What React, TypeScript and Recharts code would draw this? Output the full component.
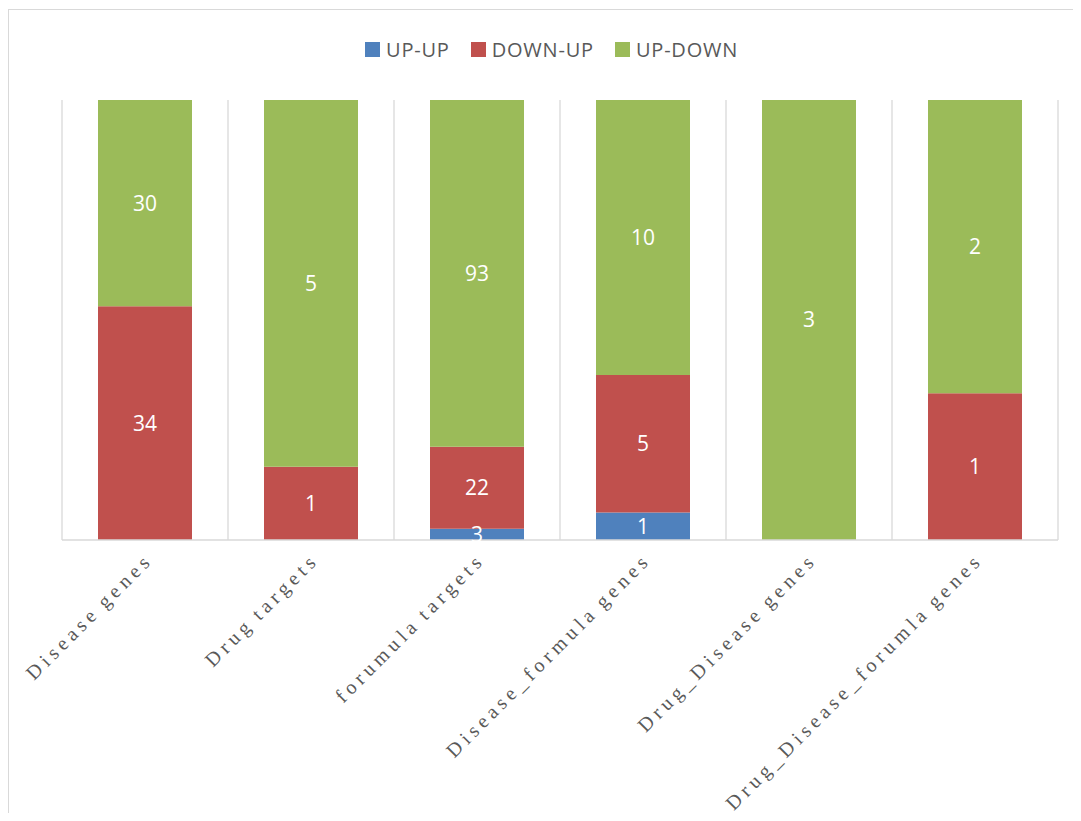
import React from 'react';
import { BarChart, Bar, XAxis, YAxis, CartesianGrid, LabelList } from 'recharts';

const categories = [
  'Disease genes',
  'Drug targets',
  'forumula targets',
  'Disease_formula genes',
  'Drug_Disease genes',
  'Drug_Disease_forumla genes',
];
const upUp = [0, 0, 3, 1, 0, 0];
const downUp = [34, 1, 22, 5, 0, 1];
const upDown = [30, 5, 93, 10, 3, 2];

const seriesKeys = ['upUp', 'downUp', 'upDown'];
const seriesNames = ['UP-UP', 'DOWN-UP', 'UP-DOWN'];
const colors = ['#4F81BD', '#C0504D', '#9BBB59'];

const data = categories.map((c, i) => ({
  name: c,
  upUp: upUp[i],
  downUp: downUp[i],
  upDown: upDown[i],
}));

const labelFont = '"Open Sans", "Noto Sans", sans-serif';

const Tick = (props: any) => {
  const { x, y, payload } = props;
  const ax = x + 9;
  const ay = y + 21;
  return (
    <text
      x={ax}
      y={ay}
      transform={`rotate(-45, ${ax}, ${ay})`}
      textAnchor="end"
      fontFamily='"Liberation Serif", "Times New Roman", serif'
      fontSize={20}
      letterSpacing={4.6}
      wordSpacing={-3}
      fill="#595959"
    >
      {payload.value}
    </text>
  );
};

const fmt = (v: any) => (v === 0 ? '' : v);

export default function App() {
  return (
    <div style={{ position: 'relative', width: 1073, height: 813, marginBottom: -8, overflow: 'hidden', background: '#fff' }}>
      <div style={{ position: 'absolute', left: 0, top: 0 }}>
        <BarChart
          width={1073}
          height={813}
          data={data}
          stackOffset="expand"
          barSize={94}
          margin={{ top: 92, right: 23, bottom: 10, left: 54 }}
        >
          <CartesianGrid
            horizontal={false}
            stroke="#d9d9d9"
            strokeWidth={1.3}
            verticalCoordinatesGenerator={({ offset }: any) =>
              [0, 1, 2, 3, 4, 5, 6].map((i) => offset.left + (i * offset.width) / 6)
            }
          />
          <XAxis
            dataKey="name"
            interval={0}
            tickLine={false}
            tickSize={0}
            tickMargin={0}
            height={271}
            axisLine={{ stroke: '#d9d9d9', strokeWidth: 1.5 }}
            tick={<Tick />}
          />
          <YAxis hide domain={[0, 1]} />
          {seriesKeys.map((k, i) => (
            <Bar key={k} dataKey={k} name={seriesNames[i]} stackId="a" fill={colors[i]} isAnimationActive={false}>
              <LabelList dataKey={k} position="center" fill="#fff" fontSize={21} fontFamily={labelFont} formatter={fmt} />
            </Bar>
          ))}
        </BarChart>
      </div>
      <div
        style={{
          position: 'absolute',
          left: 357,
          top: 28,
          display: 'flex',
          alignItems: 'center',
          fontFamily: labelFont,
          whiteSpace: 'nowrap',
        }}
      >
        {seriesNames.map((n, i) => (
          <div key={n} style={{ display: 'flex', alignItems: 'center', marginRight: i < 2 ? 21 : 0 }}>
            <div style={{ width: 15, height: 15, background: colors[i], marginRight: 6 }} />
            <span style={{ fontSize: 20, color: '#595959', letterSpacing: 0.8 }}>{n}</span>
          </div>
        ))}
      </div>
      <div
        style={{
          position: 'absolute',
          left: 0,
          top: 1,
          width: 1300,
          height: 1000,
          border: '1.5px solid #d9d9d9',
          boxSizing: 'border-box',
          pointerEvents: 'none',
          zIndex: 2,
        }}
      />
    </div>
  );
}
